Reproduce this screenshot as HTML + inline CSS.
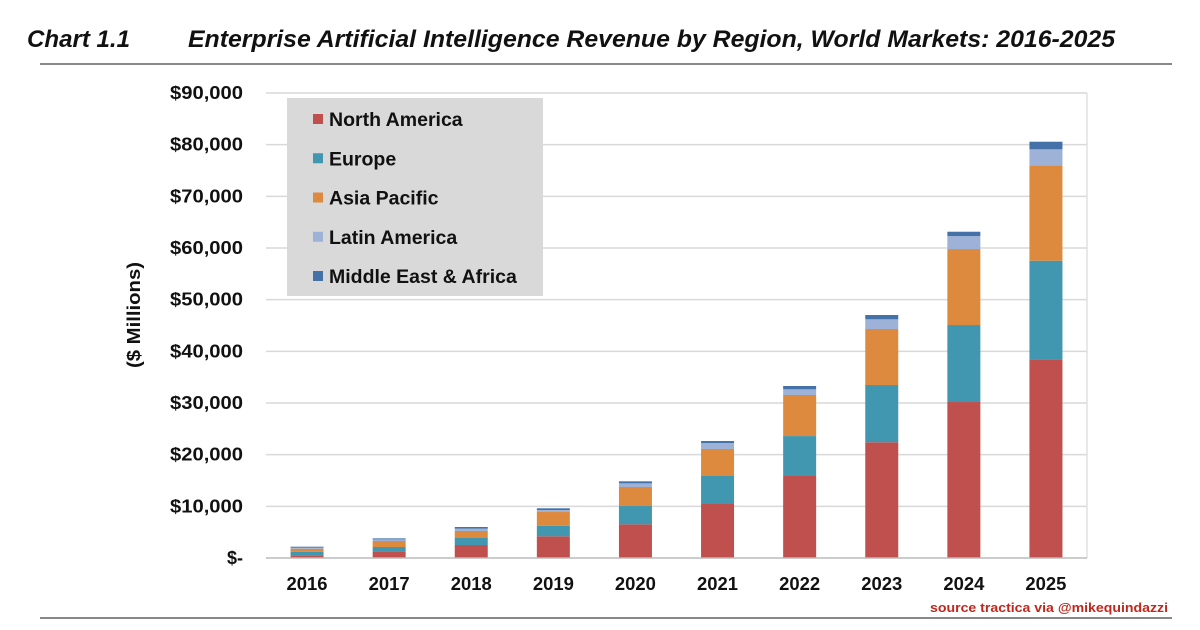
<!DOCTYPE html>
<html><head><meta charset="utf-8"><style>
body{margin:0;background:#fff;width:1200px;height:625px;overflow:hidden;font-family:"Liberation Sans",Arial,sans-serif}
</style></head><body>
<svg width="1200" height="625">
<text x="27" y="47" font-size="24" font-weight="bold" font-style="italic" fill="#111" textLength="103" lengthAdjust="spacingAndGlyphs">Chart 1.1</text>
<text x="188" y="47" font-size="24" font-weight="bold" font-style="italic" fill="#111" textLength="927" lengthAdjust="spacingAndGlyphs">Enterprise Artificial Intelligence Revenue by Region, World Markets: 2016-2025</text>
<line x1="40" y1="64" x2="1172" y2="64" stroke="#888" stroke-width="2"/>
<line x1="40" y1="618" x2="1172" y2="618" stroke="#888" stroke-width="2"/>
<text x="930" y="612" font-size="13" font-weight="bold" fill="#c0281e" textLength="238" lengthAdjust="spacingAndGlyphs">source tractica via @mikequindazzi</text>
<text transform="translate(140,315) rotate(-90)" font-size="18" font-weight="bold" text-anchor="middle" fill="#111" textLength="106" lengthAdjust="spacingAndGlyphs">($ Millions)</text>
<g id="grid"></g><g id="bars"></g><g id="axes"></g>
<g>
<rect x="287" y="98" width="256" height="198" fill="#d9d9d9"/>
<g id="legend"></g>
</g>
</svg>
<script>
const years=["2016","2017","2018","2019","2020","2021","2022","2023","2024","2025"];
const northAmerica=[520,1290,2520,4200,6520,10450,15870,22400,30190,38450];
const europe=[700,840,1350,2050,3540,5420,7730,11080,14900,19090];
const asiaPacific=[580,1160,1360,2650,3680,5230,7950,10840,14710,18460];
const latinAmerica=[200,320,450,390,710,1150,1100,1880,2500,3100];
const middleEastAfrica=[190,190,320,330,390,390,640,830,850,1470];
const yTicks=[0,10000,20000,30000,40000,50000,60000,70000,80000,90000];
const seriesNames=["North America","Europe","Asia Pacific","Latin America","Middle East & Africa"];
const series=[northAmerica,europe,asiaPacific,latinAmerica,middleEastAfrica];
const colors=["#c0504d","#4197b0","#de8a3e","#9db2d6","#4472a8"];
const NS="http://www.w3.org/2000/svg";
const L=266,R=1087,T=93,B=558,max=90000;
const y=v=>B-(v/max)*(B-T);
const cw=(R-L)/years.length;
const x=i=>L+cw*(i+0.5);
function mk(t,a,p){const e=document.createElementNS(NS,t);for(const k in a)e.setAttribute(k,a[k]);document.getElementById(p).appendChild(e);return e;}
yTicks.forEach(v=>{
 if(v>0){const g=mk('line',{x1:L,x2:R,y1:y(v),y2:y(v),stroke:'#d9d9d9','stroke-width':1.5},'grid');
 
 }
 const lbl=v===0?'$-':'$'+v.toLocaleString('en-US');
 const a={x:243,y:y(v)+6,'font-size':18,'font-weight':'bold','text-anchor':'end',fill:'#111'};
 if(lbl.length===7){a.textLength=73;a.lengthAdjust='spacingAndGlyphs';}
 const t=mk('text',a,'axes');
 t.textContent=lbl;
 
 
});
const rb=mk('line',{x1:R,x2:R,y1:T,y2:B,stroke:'#e0e0e0','stroke-width':1.5},'grid');


const ax=mk('line',{x1:L,x2:R,y1:B,y2:B,stroke:'#bbb','stroke-width':1.5},'axes');


years.forEach((yr,i)=>{
 let cum=0;
 series.forEach((s,k)=>{
  const r=mk('rect',{x:x(i)-16.5,width:33,y:y(cum+s[i]),height:y(cum)-y(cum+s[i]),fill:colors[k]},'bars');
  
  
  cum+=s[i];
 });
 const t=mk('text',{x:x(i),y:590,'font-size':18,'font-weight':'bold','text-anchor':'middle',fill:'#111',textLength:41,lengthAdjust:'spacingAndGlyphs'},'axes');
 t.textContent=yr;
 
 
});
seriesNames.forEach((n,k)=>{
 const yy=119+k*39.25;
 const m=mk('rect',{x:313,y:yy-5,width:10,height:10,fill:colors[k]},'legend');
 
 
 const t=mk('text',{x:329,y:yy+7,'font-size':19.5,'font-weight':'bold',fill:'#111'},'legend');
 t.textContent=n;
 
 
});
</script>
</body></html>
